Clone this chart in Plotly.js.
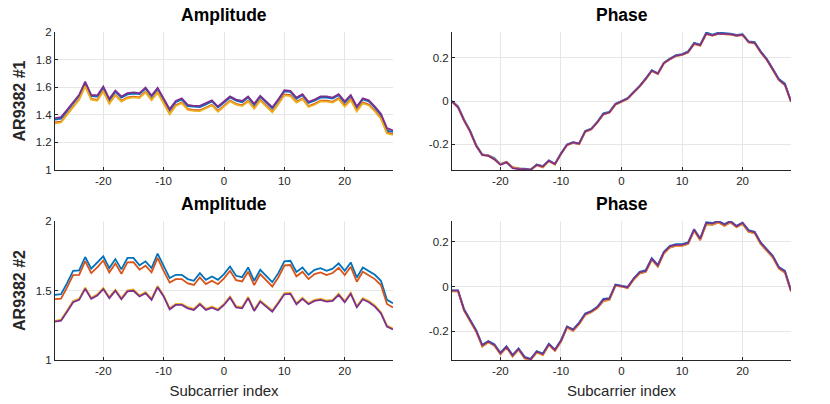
<!DOCTYPE html>
<html>
<head>
<meta charset="utf-8">
<script src="https://cdn.plot.ly/plotly-3.0.1.min.js"></script>
<style>
  html, body { margin: 0; padding: 0; background: #fff; }
  #csi_graph { width: 830px; height: 404px; }
</style>
</head>
<body>
<div id="csi_graph"></div>
<script>
// subcarrier index -28..28
var subcarrier = []
for (var k = -28; k <= 28; k++) subcarrier.push(k)

var tick_vals = [-20, -10, 0, 10, 20]
var tick_text = ['-20', '-10', '0', '10', '20']
var row_labels = ['AR9382 #1', 'AR9382 #2']

/* AR9382 #1 amplitude, 4 streams */
var amp1_a = [1.366,1.372,1.428,1.482,1.537,1.632,1.535,1.532,1.597,1.506,1.568,1.524,1.548,1.553,1.550,1.590,1.532,1.588,1.512,1.432,1.492,1.512,1.463,1.457,1.456,1.476,1.497,1.452,1.489,1.525,1.502,1.491,1.525,1.471,1.530,1.489,1.446,1.505,1.570,1.566,1.516,1.542,1.486,1.502,1.524,1.525,1.517,1.542,1.489,1.535,1.452,1.512,1.497,1.452,1.398,1.285,1.276]
var amp1_b = [1.345,1.350,1.405,1.460,1.514,1.612,1.515,1.508,1.574,1.486,1.545,1.502,1.526,1.532,1.527,1.568,1.510,1.565,1.490,1.410,1.470,1.490,1.442,1.434,1.433,1.454,1.473,1.428,1.466,1.503,1.480,1.469,1.502,1.449,1.508,1.466,1.424,1.482,1.547,1.542,1.494,1.519,1.463,1.479,1.503,1.502,1.494,1.520,1.466,1.512,1.430,1.490,1.474,1.430,1.377,1.270,1.262]
var amp1_c = [1.338,1.344,1.400,1.454,1.508,1.606,1.510,1.502,1.568,1.480,1.540,1.496,1.520,1.526,1.522,1.562,1.505,1.560,1.484,1.404,1.464,1.484,1.436,1.428,1.427,1.448,1.468,1.422,1.460,1.497,1.474,1.463,1.496,1.443,1.502,1.460,1.418,1.476,1.541,1.536,1.488,1.513,1.457,1.473,1.497,1.496,1.488,1.514,1.460,1.506,1.424,1.484,1.468,1.424,1.371,1.264,1.255]
var amp1_d = [1.376,1.383,1.436,1.490,1.545,1.641,1.545,1.540,1.605,1.516,1.576,1.533,1.557,1.562,1.557,1.598,1.540,1.595,1.520,1.441,1.501,1.520,1.472,1.465,1.465,1.485,1.505,1.460,1.497,1.533,1.510,1.500,1.533,1.480,1.538,1.497,1.455,1.513,1.578,1.573,1.525,1.550,1.494,1.510,1.533,1.533,1.525,1.550,1.497,1.543,1.460,1.520,1.505,1.460,1.407,1.303,1.287]

/* AR9382 #1 phase */
var ph1_a = [0.000,-0.025,-0.086,-0.137,-0.203,-0.246,-0.250,-0.263,-0.291,-0.281,-0.306,-0.311,-0.312,-0.315,-0.293,-0.300,-0.274,-0.289,-0.241,-0.200,-0.190,-0.195,-0.138,-0.127,-0.096,-0.057,-0.050,-0.013,0.000,0.013,0.042,0.070,0.104,0.142,0.128,0.177,0.196,0.211,0.216,0.229,0.268,0.260,0.316,0.306,0.315,0.313,0.311,0.305,0.308,0.275,0.271,0.229,0.195,0.149,0.102,0.080,0.000]
var ph1_b = [-0.003,-0.030,-0.091,-0.142,-0.208,-0.250,-0.253,-0.270,-0.292,-0.280,-0.305,-0.312,-0.316,-0.318,-0.296,-0.306,-0.277,-0.293,-0.245,-0.204,-0.193,-0.199,-0.142,-0.131,-0.100,-0.062,-0.054,-0.017,-0.004,0.009,0.038,0.066,0.100,0.138,0.124,0.173,0.192,0.207,0.212,0.224,0.262,0.255,0.308,0.301,0.309,0.309,0.306,0.300,0.304,0.270,0.266,0.224,0.189,0.143,0.096,0.073,-0.004]
var ph1_c = [-0.001,-0.027,-0.088,-0.139,-0.205,-0.247,-0.251,-0.266,-0.293,-0.282,-0.307,-0.313,-0.315,-0.316,-0.295,-0.304,-0.276,-0.292,-0.244,-0.203,-0.192,-0.198,-0.141,-0.130,-0.099,-0.061,-0.053,-0.016,-0.003,0.010,0.039,0.067,0.101,0.139,0.125,0.174,0.193,0.208,0.213,0.225,0.264,0.256,0.310,0.302,0.310,0.310,0.307,0.301,0.305,0.271,0.267,0.225,0.190,0.144,0.097,0.074,-0.003]
var ph1_d = [-0.002,-0.028,-0.089,-0.140,-0.206,-0.248,-0.252,-0.268,-0.294,-0.283,-0.309,-0.314,-0.314,-0.317,-0.294,-0.302,-0.275,-0.291,-0.243,-0.202,-0.191,-0.197,-0.140,-0.129,-0.098,-0.060,-0.052,-0.015,-0.002,0.011,0.040,0.068,0.102,0.140,0.126,0.175,0.194,0.209,0.214,0.226,0.265,0.257,0.311,0.303,0.311,0.311,0.308,0.302,0.306,0.272,0.268,0.226,0.191,0.145,0.098,0.075,-0.002]

/* AR9382 #2 amplitude */
var amp2_a = [1.469,1.473,1.553,1.642,1.645,1.741,1.657,1.698,1.746,1.661,1.726,1.652,1.734,1.734,1.681,1.710,1.661,1.765,1.673,1.589,1.613,1.613,1.582,1.570,1.625,1.577,1.601,1.577,1.618,1.673,1.606,1.596,1.666,1.570,1.649,1.601,1.560,1.625,1.710,1.714,1.633,1.666,1.613,1.649,1.661,1.642,1.657,1.695,1.642,1.702,1.594,1.666,1.637,1.613,1.570,1.433,1.408]
var amp2_b = [1.438,1.442,1.522,1.610,1.612,1.712,1.625,1.666,1.716,1.630,1.695,1.620,1.702,1.703,1.650,1.678,1.630,1.735,1.641,1.557,1.582,1.582,1.551,1.540,1.594,1.546,1.570,1.545,1.587,1.642,1.575,1.565,1.635,1.539,1.618,1.570,1.529,1.594,1.680,1.683,1.602,1.635,1.582,1.618,1.630,1.611,1.626,1.664,1.611,1.671,1.563,1.635,1.606,1.582,1.539,1.403,1.378]
var amp2_c = [1.282,1.290,1.356,1.425,1.441,1.521,1.448,1.472,1.519,1.453,1.506,1.445,1.501,1.507,1.465,1.489,1.441,1.533,1.465,1.373,1.404,1.404,1.380,1.368,1.409,1.368,1.385,1.366,1.404,1.457,1.387,1.380,1.453,1.361,1.428,1.392,1.356,1.416,1.482,1.485,1.409,1.448,1.409,1.433,1.441,1.428,1.433,1.477,1.424,1.484,1.387,1.445,1.424,1.392,1.344,1.247,1.226]
var amp2_d = [1.276,1.283,1.348,1.416,1.433,1.512,1.440,1.464,1.510,1.445,1.498,1.437,1.493,1.498,1.457,1.481,1.433,1.524,1.457,1.365,1.396,1.396,1.372,1.360,1.401,1.360,1.377,1.358,1.396,1.449,1.379,1.372,1.445,1.353,1.420,1.384,1.348,1.408,1.473,1.476,1.401,1.440,1.401,1.425,1.433,1.420,1.425,1.469,1.416,1.476,1.379,1.437,1.416,1.384,1.336,1.240,1.220]

/* AR9382 #2 phase */
var ph2_a = [-0.017,-0.017,-0.102,-0.151,-0.196,-0.262,-0.245,-0.259,-0.297,-0.268,-0.307,-0.278,-0.316,-0.325,-0.290,-0.301,-0.257,-0.283,-0.241,-0.179,-0.192,-0.162,-0.121,-0.110,-0.091,-0.056,-0.052,0.009,0.005,-0.002,0.036,0.066,0.073,0.127,0.097,0.156,0.183,0.190,0.190,0.198,0.257,0.216,0.288,0.285,0.294,0.280,0.294,0.272,0.287,0.253,0.246,0.198,0.168,0.138,0.088,0.070,-0.017]
var ph2_b = [-0.022,-0.022,-0.108,-0.157,-0.203,-0.270,-0.250,-0.266,-0.304,-0.274,-0.314,-0.284,-0.323,-0.330,-0.296,-0.308,-0.263,-0.289,-0.248,-0.185,-0.199,-0.169,-0.128,-0.116,-0.098,-0.066,-0.060,0.003,0.000,-0.008,0.030,0.058,0.065,0.119,0.089,0.148,0.175,0.182,0.183,0.191,0.250,0.208,0.279,0.277,0.287,0.272,0.287,0.266,0.281,0.245,0.239,0.190,0.160,0.130,0.080,0.062,-0.022]
var ph2_c = [-0.021,-0.021,-0.107,-0.156,-0.202,-0.268,-0.249,-0.265,-0.302,-0.273,-0.312,-0.283,-0.321,-0.329,-0.295,-0.307,-0.262,-0.288,-0.247,-0.184,-0.198,-0.168,-0.127,-0.115,-0.097,-0.064,-0.058,0.004,0.001,-0.007,0.031,0.060,0.067,0.121,0.091,0.150,0.177,0.184,0.184,0.192,0.252,0.210,0.281,0.279,0.289,0.274,0.289,0.267,0.282,0.247,0.240,0.192,0.162,0.132,0.082,0.064,-0.021]
var ph2_d = [-0.019,-0.019,-0.105,-0.154,-0.199,-0.265,-0.247,-0.262,-0.300,-0.270,-0.310,-0.280,-0.319,-0.327,-0.292,-0.304,-0.259,-0.285,-0.244,-0.181,-0.195,-0.165,-0.124,-0.112,-0.094,-0.060,-0.055,0.007,0.003,-0.004,0.034,0.063,0.070,0.124,0.094,0.153,0.180,0.187,0.187,0.195,0.255,0.213,0.285,0.282,0.292,0.277,0.292,0.270,0.285,0.250,0.243,0.195,0.165,0.135,0.085,0.067,-0.019]

var colors = ['#0072BD', '#D95319', '#EDB120', '#7E2F8E']

var panels = [
    { xa: 'x',  ya: 'y',  series: [amp1_a, amp1_b, amp1_c, amp1_d] },
    { xa: 'x2', ya: 'y2', series: [ph1_a, ph1_b, ph1_c, ph1_d] },
    { xa: 'x3', ya: 'y3', series: [amp2_a, amp2_b, amp2_c, amp2_d] },
    { xa: 'x4', ya: 'y4', series: [ph2_a, ph2_b, ph2_c, ph2_d] }
]

var data = []
panels.forEach(function (p) {
    p.series.forEach(function (s, i) {
        data.push({
            x: subcarrier, y: s, xaxis: p.xa, yaxis: p.ya,
            type: 'scatter', mode: 'lines', hoverinfo: 'skip',
            line: { color: colors[i], width: 1.8 }
        })
    })
})

var W = 830, H = 404
var FONT = 'Liberation Sans, Arial, sans-serif'
function dx(a, b) { return [a / W, b / W] }
function dy(top, bot) { return [1 - bot / H, 1 - top / H] }

function base_axis(dom, anchor) {
    return {
        domain: dom, anchor: anchor,
        showline: true, linecolor: '#262626', linewidth: 1, mirror: false,
        ticks: 'inside', ticklen: 3, tickcolor: '#262626',
        showgrid: true, gridcolor: '#e6e6e6', gridwidth: 1, zeroline: false,
        tickfont: { family: FONT, size: 11.5, color: '#262626' }
    }
}

function xax(dom, anchor, title) {
    var ax = base_axis(dom, anchor)
    ax.range = [-28, 28]
    ax.tickvals = tick_vals
    ax.ticktext = tick_text
    if (title) ax.title = { text: title, standoff: 9, font: { family: FONT, size: 15, color: '#262626' } }
    return ax
}

function yax(dom, anchor, range, vals, text, title) {
    var ax = base_axis(dom, anchor)
    ax.range = range
    ax.tickvals = vals
    ax.ticktext = text
    if (title) ax.title = { text: '<b>' + title + '</b>', standoff: 6, font: { family: FONT, size: 16, color: '#262626' } }
    return ax
}

function panel_title(text, xref, ytop) {
    return {
        text: '<b>' + text + '</b>', xref: 'x' + xref + ' domain', yref: 'paper',
        x: 0.5, y: 1 - ytop / H, yanchor: 'bottom', showarrow: false,
        font: { family: FONT, size: 17.5, color: '#000' }
    }
}

var layout = {
    width: W, height: H,
    margin: { l: 0, r: 0, t: 0, b: 0 },
    paper_bgcolor: '#fff', plot_bgcolor: '#fff',
    showlegend: false,
    xaxis:  xax(dx(55, 393), 'y'),
    xaxis2: xax(dx(452, 791), 'y2'),
    xaxis3: xax(dx(55, 393), 'y3', 'Subcarrier index'),
    xaxis4: xax(dx(452, 791), 'y4', 'Subcarrier index'),
    yaxis:  yax(dy(32, 170), 'x', [1, 2], [1, 1.2, 1.4, 1.6, 1.8, 2], ['1', '1.2', '1.4', '1.6', '1.8', '2'], row_labels[0]),
    yaxis2: yax(dy(32, 170), 'x2', [-0.318, 0.318], [-0.2, 0, 0.2], ['-0.2', '0', '0.2']),
    yaxis3: yax(dy(221, 360), 'x3', [1, 2], [1, 1.5, 2], ['1', '1.5', '2'], row_labels[1]),
    yaxis4: yax(dy(221, 360), 'x4', [-0.33, 0.294], [-0.2, 0, 0.2], ['-0.2', '0', '0.2']),
    annotations: [
        panel_title('Amplitude', '', 27),
        panel_title('Phase', '2', 27),
        panel_title('Amplitude', '3', 216),
        panel_title('Phase', '4', 216)
    ]
}

Plotly.newPlot('csi_graph', data, layout, { staticPlot: true })
</script>
</body>
</html>
